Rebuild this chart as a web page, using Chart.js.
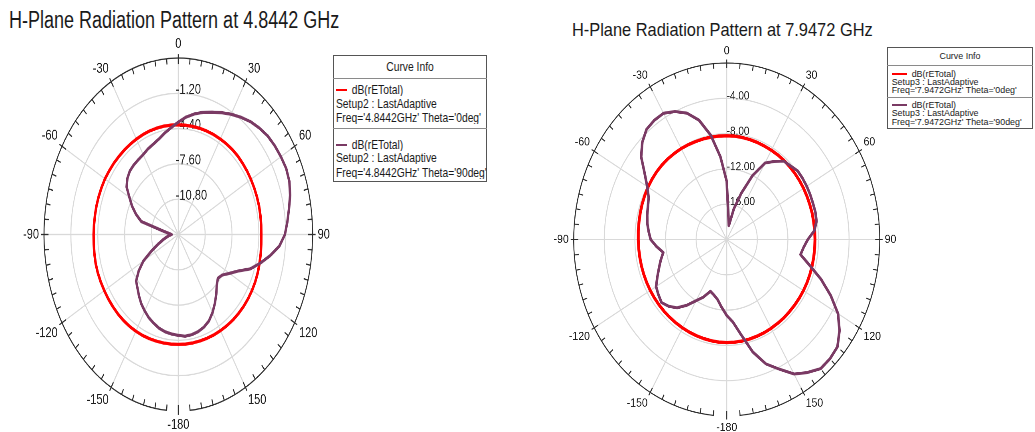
<!DOCTYPE html>
<html>
<head>
<meta charset="utf-8">
<script src="https://cdn.jsdelivr.net/npm/chart.js@4.4.1/dist/chart.umd.min.js"></script>
<style>
html,body{margin:0;padding:0;background:#fff;}
body{width:1035px;height:432px;position:relative;overflow:hidden;font-family:'Liberation Sans',Arial,sans-serif;color:#1a1a1a;}
.wrap{position:absolute;left:0;top:0;transform-origin:0 0;}
.box{position:absolute;border:1px solid #555;box-sizing:border-box;background:#fff;}
.hl{position:absolute;height:0;border-top:1px solid #8a8a8a;}
.t{position:absolute;white-space:nowrap;transform-origin:0 50%;}
.tc{position:absolute;white-space:nowrap;transform-origin:50% 50%;}
.sw{position:absolute;}
</style>
</head>
<body>
<script>
// ---------------- data ----------------
const angles = [0,5,10,15,20,25,30,35,40,45,50,55,60,65,70,75,80,85,90,95,100,105,110,115,120,125,130,135,140,145,150,155,160,165,170,175,
                180,185,190,195,200,205,210,215,220,225,230,235,240,245,250,255,260,265,270,275,280,285,290,295,300,305,310,315,320,325,330,335,340,345,350,355];
const angleTickLabels = ['0','30','60','90','120','150','-180','-150','-120','-90','-60','-30'];

// 4.8442 GHz (dB)
const f1Theta0 = [-4.06,-4.06,-4.05,-4.04,-4.03,-4.01,-4.00,-3.98,-3.96,-3.96,-3.98,-3.99,-4.01,-4.02,-4.03,-4.04,-4.07,-4.09,
                  -4.11,-4.08,-4.03,-3.98,-3.92,-3.88,-3.86,-3.85,-3.85,-3.87,-3.88,-3.91,-3.94,-3.96,-3.99,-4.01,-4.02,-4.03,
                  -4.03,-4.03,-4.01,-3.99,-3.95,-3.91,-3.88,-3.85,-3.83,-3.82,-3.82,-3.82,-3.82,-3.81,-3.80,-3.81,-3.85,-3.89,
                  -3.91,-3.92,-3.92,-3.91,-3.91,-3.91,-3.91,-3.94,-3.96,-3.99,-4.00,-4.01,-4.01,-4.01,-4.01,-4.02,-4.03,-4.05];
const f1Theta90 = [-3.81,-3.31,-2.90,-2.53,-2.19,-1.81,-1.41,-1.02,-0.64,-0.35,-0.10,0.03,0.11,0.18,0.08,-0.21,-0.61,-0.96,
                   -1.30,-1.92,-2.91,-3.92,-4.88,-6.16,-6.96,-7.60,-7.84,-7.52,-6.96,-6.40,-5.84,-5.36,-5.07,-4.88,-4.78,-4.75,
                   -4.86,-4.94,-5.04,-5.20,-5.44,-5.68,-6.00,-6.32,-6.72,-7.12,-7.44,-8.24,-9.20,-10.48,-11.44,-12.08,-12.56,-12.88,
                   -13.20,-12.88,-12.16,-9.44,-8.64,-7.92,-7.28,-6.48,-6.08,-5.84,-5.76,-5.71,-5.63,-5.44,-5.28,-5.04,-4.66,-4.27];
const f1Ticks = {min: -14, max: 2, step: 3.2};

// 7.9472 GHz (dB)
const f2Theta0 = [-8.24,-8.24,-8.26,-8.28,-8.30,-8.32,-8.32,-8.32,-8.32,-8.34,-8.36,-8.38,-8.40,-8.42,-8.44,-8.44,-8.46,-8.46,
                  -8.46,-8.46,-8.45,-8.44,-8.43,-8.42,-8.42,-8.42,-8.42,-8.42,-8.40,-8.40,-8.38,-8.36,-8.35,-8.33,-8.32,-8.32,
                  -8.32,-8.33,-8.35,-8.38,-8.40,-8.42,-8.44,-8.45,-8.46,-8.46,-8.46,-8.46,-8.46,-8.46,-8.46,-8.46,-8.46,-8.45,
                  -8.44,-8.40,-8.36,-8.30,-8.24,-8.18,-8.12,-8.08,-8.05,-8.04,-8.05,-8.08,-8.10,-8.14,-8.18,-8.20,-8.22,-8.24];
const f2Theta90 = [-13.4,-17.4,-18.4,-16.4,-14.4,-12.0,-10.0,-9.2,-8.4,-8.2,-7.9,-7.9,-7.92,-7.96,-8.0,-8.0,-8.08,-8.5,
                   -9.4,-9.9,-10.2,-8.8,-6.9,-5.0,-3.2,-2.0,-1.1,-0.9,-0.9,-1.6,-2.4,-3.8,-5.0,-6.8,-9.0,-10.6,
                   -11.4,-12.3,-13.1,-13.5,-13.76,-12.8,-12.0,-10.9,-9.9,-9.3,-8.88,-9.1,-9.34,-10.0,-10.58,-11.08,-11.58,-10.8,
                   -10.06,-9.76,-9.46,-9.24,-9.04,-8.74,-8.0,-6.9,-5.4,-4.4,-3.7,-3.5,-3.48,-4.0,-4.76,-6.0,-8.0,-10.6];
const f2Ticks = {min: -20, max: 0, step: 4};

const RED = '#ff0000';
const PURPLE = '#7a3a64';
const FONT = "'Liberation Sans', Arial, sans-serif";

// ---------------- helpers ----------------
function angleText(a) {
  return a % 30 === 0 ? angleTickLabels[a / 30] : '';
}

const ringPlugin = {
  id: 'ring',
  beforeDatasetsDraw(chart, args, o) {
    const s = chart.scales.r, ctx = chart.ctx;
    const R = s.drawingArea, xc = s.xCenter, yc = s.yCenter;
    const n = chart.data.labels.length;
    ctx.save();
    ctx.strokeStyle = '#2e2e2e';
    ctx.lineWidth = 1;
    const gap = o.gapDeg * Math.PI / 180;
    ctx.beginPath();
    ctx.arc(xc, yc, R, Math.PI / 2 + gap, Math.PI / 2 - gap + 2 * Math.PI);
    ctx.stroke();
    ctx.beginPath();
    for (let i = 0; i < n; i++) {
      const major = chart.data.labels[i] % 30 === 0;
      const a = s.getPointPosition(i, R - o.tickIn);
      const b = s.getPointPosition(i, major ? R + o.tickOut : R);
      ctx.moveTo(a.x, a.y);
      ctx.lineTo(b.x, b.y);
    }
    ctx.stroke();
    // radial value labels along the 0 deg axis
    ctx.fillStyle = '#222';
    ctx.font = o.tickSize + 'px ' + FONT;
    ctx.textAlign = 'left';
    ctx.textBaseline = 'middle';
    s.ticks.forEach((t, i) => {
      if (i === 0 || i === s.ticks.length - 1) return;
      const d = s.getDistanceFromCenterForValue(t.value);
      ctx.fillText(t.label, xc + o.tickDx, yc - d - o.tickDy);
    });
    ctx.restore();
  }
};

function makeChart(cfg) {
  const wrap = document.createElement('div');
  wrap.className = 'wrap';
  wrap.style.width = cfg.W + 'px';
  wrap.style.height = cfg.H + 'px';
  const cv = document.createElement('canvas');
  cv.width = cfg.W; cv.height = cfg.H;
  wrap.appendChild(cv);
  document.body.appendChild(wrap);
  const mx = cfg.ticks.max;
  const chart = new Chart(cv, {
    type: 'radar',
    data: {
      labels: angles,
      datasets: [
        {label: 'dB(rETotal) Theta=0deg', data: cfg.red, borderColor: RED, borderWidth: cfg.lwRed, fill: false, order: 2},
        {label: 'dB(rETotal) Theta=90deg', data: cfg.purple, borderColor: PURPLE, borderWidth: cfg.lwPurple, fill: false, order: 1}
      ]
    },
    options: {
      responsive: false,
      animation: false,
      devicePixelRatio: 2.5,
      events: [],
      elements: {
        point: {radius: 0, hoverRadius: 0},
        line: {tension: 0, borderJoinStyle: 'round', borderCapStyle: 'round'}
      },
      plugins: {
        legend: {display: false},
        tooltip: {enabled: false},
        ring: {gapDeg: 4.8, tickIn: 4.5, tickOut: 3, tickSize: cfg.tickSize, tickDx: cfg.tickDx, tickDy: cfg.tickDy}
      },
      scales: {
        r: {
          min: cfg.ticks.min,
          max: cfg.ticks.max,
          startAngle: 0,
          ticks: {display: false, stepSize: cfg.ticks.step, callback: v => Number(v).toFixed(2)},
          grid: {
            circular: true,
            lineWidth: 1,
            color: c => (c.tick && c.tick.value >= mx - 1e-9) ? 'rgba(0,0,0,0)' : '#d9d9d9'
          },
          angleLines: {
            lineWidth: 1,
            color: c => (angles[c.index] % 30 === 0) ? '#d9d9d9' : 'rgba(0,0,0,0)'
          },
          pointLabels: {
            display: true,
            padding: 5,
            color: '#1e1e1e',
            font: {family: FONT, size: cfg.labelSize, lineHeight: 1},
            callback: (lbl, i) => angleText(angles[i])
          }
        }
      }
    },
    plugins: [ringPlugin]
  });
  const s = chart.scales.r;
  const sx = cfg.rx / s.drawingArea, sy = cfg.ry / s.drawingArea;
  wrap.style.transform = 'matrix(' + sx + ',0,0,' + sy + ',' + (cfg.cx - sx * s.xCenter) + ',' + (cfg.cy - sy * s.yCenter) + ')';
  return chart;
}

function addText(str, x, yc, size, k, center) {
  const d = document.createElement('div');
  d.className = center ? 'tc' : 't';
  d.textContent = str;
  d.style.fontSize = size + 'px';
  d.style.lineHeight = size + 'px';
  d.style.top = (yc - size / 2) + 'px';
  d.style.left = x + 'px';
  d.style.transform = center ? 'translateX(-50%) scaleY(' + k + ')' : 'scaleY(' + k + ')';
  document.body.appendChild(d);
  return d;
}
function addBox(x, y, w, h) {
  const d = document.createElement('div');
  d.className = 'box';
  Object.assign(d.style, {left: x + 'px', top: y + 'px', width: w + 'px', height: h + 'px'});
  document.body.appendChild(d);
}
function addLine(x, y, w) {
  const d = document.createElement('div');
  d.className = 'hl';
  Object.assign(d.style, {left: x + 'px', top: y + 'px', width: w + 'px'});
  document.body.appendChild(d);
}
function addSwatch(x, y, w, color, th) {
  const d = document.createElement('div');
  d.className = 'sw';
  Object.assign(d.style, {left: x + 'px', top: (y - th / 2) + 'px', width: w + 'px', height: th + 'px', background: color});
  document.body.appendChild(d);
}

// ---------------- charts ----------------
makeChart({W: 380, H: 300, cx: 178.3, cy: 234.5, rx: 134.3, ry: 176.5, ticks: f1Ticks,
           red: f1Theta0, purple: f1Theta90, lwRed: 2.5, lwPurple: 2.4,
           labelSize: 11, tickSize: 11, tickDx: -2.5, tickDy: 2.5});
makeChart({W: 420, H: 338, cx: 726.7, cy: 239.5, rx: 153, ry: 176.5, ticks: f2Ticks,
           red: f2Theta0, purple: f2Theta90, lwRed: 2.9, lwPurple: 2.6,
           labelSize: 10.5, tickSize: 10, tickDx: 0, tickDy: 1.7});

// ---------------- titles ----------------
addText('H-Plane Radiation Pattern at 4.8442 GHz', 9, 19.7, 18, 1.34, false);
addText('H-Plane Radiation Pattern at 7.9472 GHz', 572, 29.7, 16.4, 1.085, false);

// ---------------- legend boxes ----------------
addBox(333, 55, 154, 127);
addLine(333, 78, 154);
addLine(333, 128, 154);
addText('Curve Info', 410, 66.7, 10.3, 1.2, true);
addSwatch(336, 90, 11, RED, 2.5);
addText('dB(rETotal)', 351.7, 90, 10.3, 1.2, false);
addText('Setup2 : LastAdaptive', 336, 104, 10.3, 1.2, false);
addText("Freq='4.8442GHz' Theta='0deg'", 336, 118.3, 10.3, 1.2, false);
addSwatch(336, 145, 11, PURPLE, 2.5);
addText('dB(rETotal)', 351.7, 145, 10.3, 1.2, false);
addText('Setup2 : LastAdaptive', 336, 158.3, 10.3, 1.2, false);
addText("Freq='4.8442GHz' Theta='90deg'", 336, 172.7, 10.3, 1.2, false);

addBox(887, 47, 146, 82);
addLine(887, 65, 146);
addLine(887, 97, 146);
addText('Curve Info', 960, 56, 8.9, 1.05, true);
addSwatch(891.7, 74.3, 15, RED, 2);
addText('dB(rETotal)', 911.7, 74.3, 8.9, 1.05, false);
addText('Setup3 : LastAdaptive', 891.7, 82.5, 8.9, 1.05, false);
addText("Freq='7.9472GHz' Theta='0deg'", 891.7, 90.7, 8.9, 1.05, false);
addSwatch(891.7, 105, 15, PURPLE, 2);
addText('dB(rETotal)', 911.7, 105, 8.9, 1.05, false);
addText('Setup3 : LastAdaptive', 891.7, 113.5, 8.9, 1.05, false);
addText("Freq='7.9472GHz' Theta='90deg'", 891.7, 122, 8.9, 1.05, false);
</script>
</body>
</html>
